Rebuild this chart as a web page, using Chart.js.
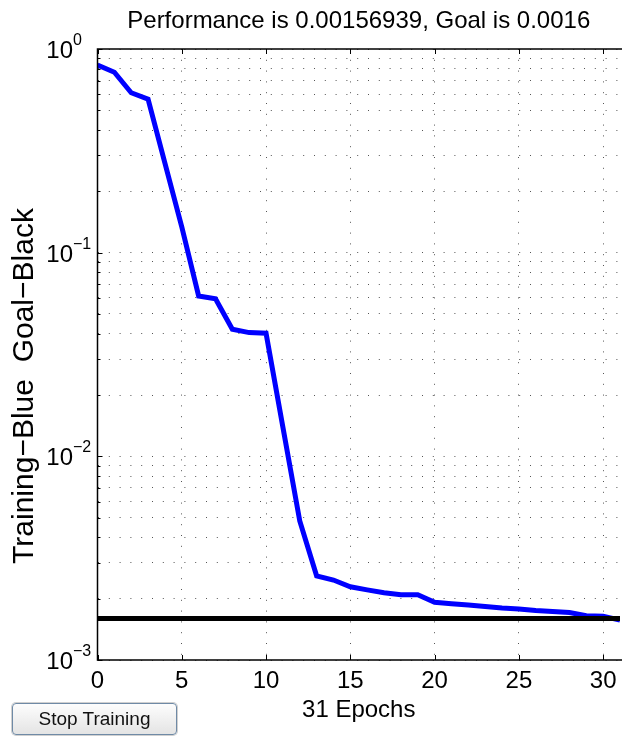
<!DOCTYPE html>
<html><head><meta charset="utf-8">
<script src="https://cdn.jsdelivr.net/npm/chart.js@4/dist/chart.umd.min.js"></script>
<style>
html,body{margin:0;padding:0;background:#fff;}
#wrap{position:relative;width:623px;height:736px;overflow:hidden;}
canvas{position:absolute;left:0;top:0;}
#stop{position:absolute;left:12px;top:703px;width:165px;height:32px;box-sizing:border-box;border:1px solid #6f8aa6;border-radius:4px;background:linear-gradient(#fdfdfd,#e4e4e4);font:19px "Liberation Sans",Arial,sans-serif;color:#111;padding:0;box-shadow:0 0 0 1px #d0d0d0;}
</style></head><body>
<div id="wrap"><canvas id="c" width="623" height="736"></canvas><button id="stop">Stop Training</button></div>
<script>
const epochs = [0,1,2,3,4,5,6,7,8,9,10,11,12,13,14,15,16,17,18,19,20,21,22,23,24,25,26,27,28,29,30,31];
const trainingPerf = [0.834,0.769,0.610,0.567,0.275,0.134,0.0613,0.0594,0.0421,0.0405,0.0402,0.0139,0.00482,0.00259,0.00247,0.00229,0.00221,0.00214,0.00209,0.00209,0.00192,0.00189,0.00186,0.00183,0.00180,0.00178,0.00175,0.00173,0.00171,0.00165,0.00164,0.00156939];
const goalValue = 0.0016;
const xTicks = [0,5,10,15,20,25,30];
const yMajorTicks = [1,0.1,0.01,0.001];
const yTickBase = '10';
const yTickExponents = ['0','\u22121','\u22122','\u22123'];
const titleText = 'Performance is 0.00156939, Goal is 0.0016';
const xTitleText = '31 Epochs';
const yTitleText = 'Training\u2212Blue  Goal\u2212Black';

const FONT = '"Liberation Sans", Arial, Helvetica, sans-serif';
const yGridValues = [];
[0.001,0.01,0.1].forEach(d => { for (let k = 1; k <= 9; k++) yGridValues.push(+(k*d).toPrecision(3)); });
yGridValues.push(1);

const matlabAxes = {
  id: 'matlabAxes',
  afterDraw(chart) {
    const {ctx, chartArea: a, scales: {x, y}} = chart;
    ctx.save();
    // frame
    ctx.strokeStyle = '#000';
    ctx.lineWidth = 1.5;
    ctx.beginPath();
    ctx.moveTo(a.right + 2, a.top); ctx.lineTo(a.left, a.top);
    ctx.lineTo(a.left, a.bottom); ctx.lineTo(a.right + 2, a.bottom);
    ctx.stroke();
    // inner tick marks
    ctx.lineWidth = 1;
    ctx.beginPath();
    xTicks.forEach(v => {
      const px = Math.round(x.getPixelForValue(v)) + 0.5;
      ctx.moveTo(px, a.top); ctx.lineTo(px, a.top + 5);
      ctx.moveTo(px, a.bottom); ctx.lineTo(px, a.bottom - 5);
    });
    yGridValues.forEach(v => {
      const py = Math.round(y.getPixelForValue(v)) + 0.5;
      const len = yMajorTicks.includes(v) ? 5 : 3;
      ctx.moveTo(a.left, py); ctx.lineTo(a.left + len, py);
    });
    ctx.stroke();
    // y tick labels 10^n
    ctx.fillStyle = '#000';
    ctx.textBaseline = 'alphabetic';
    yMajorTicks.forEach((v, i) => {
      const py = y.getPixelForValue(v);
      ctx.font = '24px ' + FONT;
      ctx.textAlign = 'right';
      ctx.fillText(yTickBase, 73, py + 9);
      ctx.font = '16px ' + FONT;
      ctx.textAlign = 'left';
      ctx.fillText(yTickExponents[i], 73, py - 4);
    });
    // title
    ctx.font = '24px ' + FONT;
    ctx.textAlign = 'center';
    ctx.textBaseline = 'middle';
    ctx.fillText(titleText, (a.left + a.right) / 2, 21.5);
    // y title
    ctx.translate(33, 386);
    ctx.rotate(-Math.PI / 2);
    ctx.font = '30px ' + FONT;
    ctx.textAlign = 'center';
    ctx.textBaseline = 'alphabetic';
    ctx.fillText(yTitleText, 0, 0);
    ctx.restore();
  }
};

new Chart(document.getElementById('c'), {
  type: 'line',
  data: {
    datasets: [
      {
        label: 'Goal',
        data: [{x: epochs[0], y: goalValue}, {x: epochs[epochs.length - 1], y: goalValue}],
        borderColor: '#000', borderWidth: 5, pointRadius: 0, tension: 0, order: 0
      },
      {
        label: 'Training',
        data: epochs.map((e, i) => ({x: e, y: trainingPerf[i]})),
        borderColor: '#0000ff', borderWidth: 5, pointRadius: 0, tension: 0, order: 1
      }
    ]
  },
  options: {
    responsive: false,
    animation: false,
    events: [],
    layout: {padding: {top: 49, left: 0, right: 0, bottom: 0}},
    plugins: {legend: {display: false}, title: {display: false}, tooltip: {enabled: false}},
    scales: {
      x: {
        type: 'linear', min: 0, max: 31,
        afterBuildTicks: s => { s.ticks = xTicks.map(v => ({value: v})); },
        afterFit: s => { s.height = 76; },
        ticks: {font: {size: 24, family: FONT}, color: '#000', padding: 6.5, maxRotation: 0, autoSkip: false},
        grid: {color: '#555', lineWidth: 1, drawTicks: false},
        border: {display: false, dash: [1, 9.8]},
        title: {display: true, text: xTitleText, font: {size: 24, family: FONT}, color: '#000', padding: {top: 0, bottom: 11.6}}
      },
      y: {
        type: 'logarithmic', min: 0.001, max: 1,
        afterBuildTicks: s => { s.ticks = yGridValues.map(v => ({value: v})); },
        afterFit: s => { s.width = 97.5; },
        ticks: {display: false},
        grid: {color: '#555', lineWidth: 1, drawTicks: false},
        border: {display: false, dash: [1, 9.8]}
      }
    }
  },
  plugins: [matlabAxes]
});
</script>
</body></html>
